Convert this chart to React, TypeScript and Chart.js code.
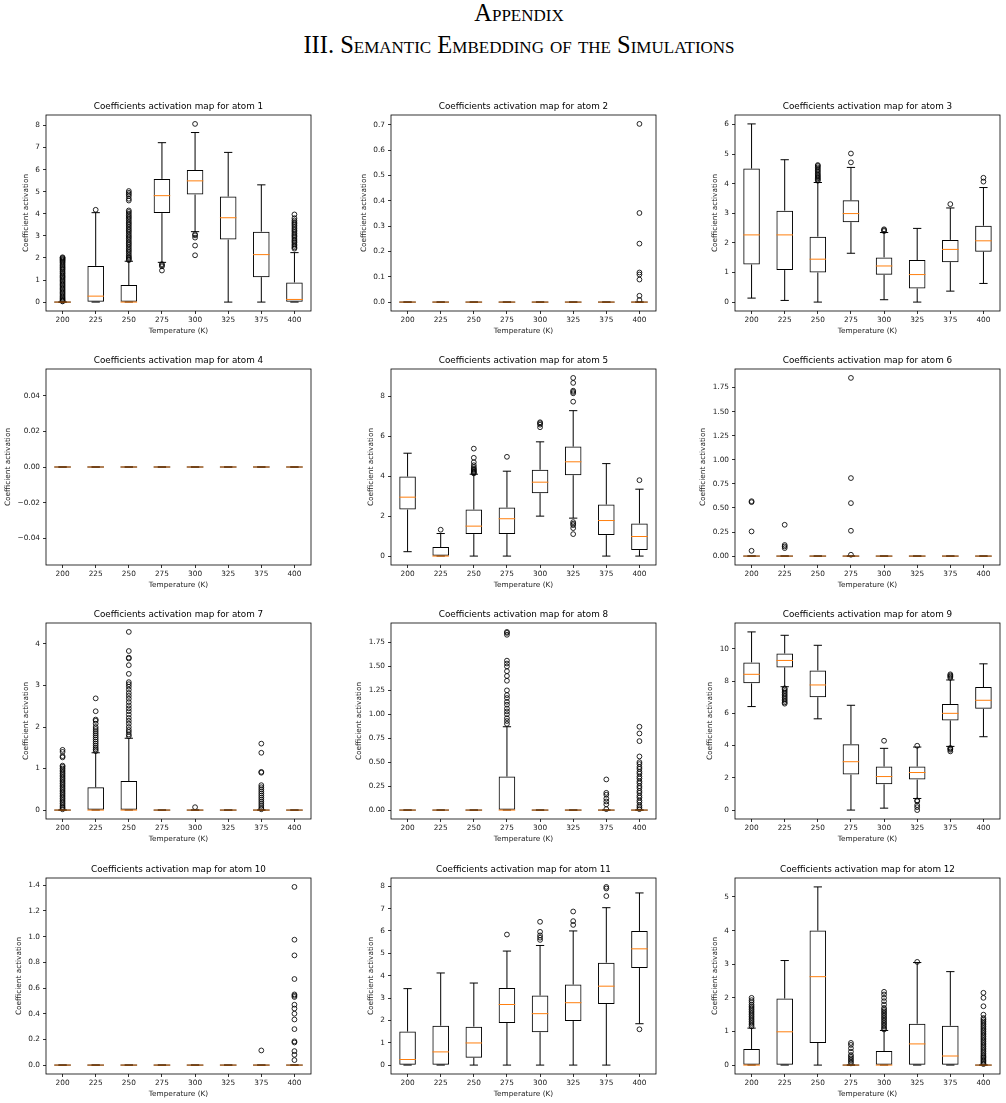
import React, { useEffect, useRef } from "react";
import { Chart, registerables } from "chart.js";

Chart.register(...registerables);
Chart.defaults.font.family = "'DejaVu Sans', sans-serif";

// ---------- DATA ----------
const temperatures = ["200", "225", "250", "275", "300", "325", "375", "400"];

// each entry: [whisker low, Q1, median, Q3, whisker high]
const atom1Stats = [
  [0, 0, 0, 0, 0], [0, 0, 0.27, 1.64, 4.05], [0, 0, 0, 0.77, 1.85], [1.8, 4.03, 4.82, 5.58, 7.22],
  [3.19, 4.87, 5.49, 5.98, 7.68], [0, 2.83, 3.82, 4.78, 6.78], [0, 1.13, 2.15, 3.19, 5.31], [0, 0, 0.12, 0.89, 2.24],
];
const atom1Outliers = [
  [2.03, 2.0, 1.96, 1.92, 1.88, 1.83, 1.78, 1.72, 1.66, 1.6, 1.55, 1.5, 1.45, 1.38, 1.32, 1.27, 1.2, 1.15, 1.1, 1.04, 0.98, 0.92, 0.86, 0.8, 0.74, 0.68, 0.62, 0.56, 0.5, 0.44, 0.38, 0.32, 0.26, 0.2, 0.15, 0.1, 0.06, 0.03],
  [4.18],
  [1.9, 1.95, 2.0, 2.05, 2.12, 2.2, 2.28, 2.35, 2.42, 2.5, 2.58, 2.65, 2.72, 2.8, 2.88, 2.95, 3.02, 3.1, 3.18, 3.25, 3.32, 3.4, 3.48, 3.55, 3.62, 3.7, 3.78, 3.85, 3.92, 4.0, 4.08, 4.15, 4.6, 4.68, 4.8, 4.88, 4.95, 5.03],
  [1.72, 1.67, 1.62, 1.43],
  [8.07, 3.07, 3.02, 2.92, 2.56, 2.12],
  [],
  [],
  [2.42, 2.48, 2.55, 2.62, 2.7, 2.76, 2.82, 2.9, 2.97, 3.03, 3.1, 3.18, 3.25, 3.32, 3.4, 3.48, 3.55, 3.62, 3.7, 3.8, 3.97],
];

const atom2Stats = [
  [0, 0, 0, 0, 0], [0, 0, 0, 0, 0], [0, 0, 0, 0, 0], [0, 0, 0, 0, 0],
  [0, 0, 0, 0, 0], [0, 0, 0, 0, 0], [0, 0, 0, 0, 0], [0, 0, 0, 0, 0],
];
const atom2Outliers = [[], [], [], [], [], [], [], [0.704, 0.352, 0.231, 0.117, 0.109, 0.089, 0.025, 0.008]];

const atom3Stats = [
  [0.135, 1.27, 2.27, 4.51, 6.02], [0.056, 1.08, 2.27, 3.09, 4.81], [0, 1.0, 1.45, 2.21, 4.04], [1.65, 2.7, 2.99, 3.44, 4.55],
  [0.08, 0.92, 1.22, 1.51, 2.35], [0, 0.46, 0.93, 1.42, 2.49], [0.37, 1.35, 1.78, 2.1, 3.18], [0.63, 1.7, 2.07, 2.58, 3.87],
];
const atom3Outliers = [
  [], [],
  [4.1, 4.14, 4.18, 4.22, 4.26, 4.3, 4.35, 4.4, 4.45, 4.5, 4.55, 4.6, 4.63],
  [4.72, 5.02],
  [2.4, 2.43, 2.46],
  [],
  [3.31],
  [4.07, 4.2],
];

const atom4Stats = [
  [0, 0, 0, 0, 0], [0, 0, 0, 0, 0], [0, 0, 0, 0, 0], [0, 0, 0, 0, 0],
  [0, 0, 0, 0, 0], [0, 0, 0, 0, 0], [0, 0, 0, 0, 0], [0, 0, 0, 0, 0],
];
const atom4Outliers = [[], [], [], [], [], [], [], []];

const atom5Stats = [
  [0.22, 2.33, 2.95, 3.98, 5.15], [0, 0, 0, 0.45, 1.13], [0, 1.1, 1.5, 2.33, 4.1], [0, 1.1, 1.87, 2.43, 4.25],
  [2.0, 3.15, 3.7, 4.32, 5.72], [1.9, 4.05, 4.72, 5.48, 7.28], [0, 1.05, 1.78, 2.58, 4.63], [0, 0.3, 0.98, 1.63, 3.35],
];
const atom5Outliers = [
  [],
  [1.32],
  [4.14, 4.18, 4.22, 4.27, 4.32, 4.37, 4.45, 4.55, 4.7, 4.92, 5.38],
  [4.97],
  [6.45, 6.58, 6.65, 6.7],
  [7.73, 8.15, 8.22, 8.28, 8.67, 8.92, 1.7, 1.62, 1.55, 1.4, 1.1],
  [],
  [3.8],
];

const atom6Stats = [
  [0, 0, 0, 0, 0], [0, 0, 0, 0, 0], [0, 0, 0, 0, 0], [0, 0, 0, 0, 0],
  [0, 0, 0, 0, 0], [0, 0, 0, 0, 0], [0, 0, 0, 0, 0], [0, 0, 0, 0, 0],
];
const atom6Outliers = [
  [0.57, 0.56, 0.256, 0.055],
  [0.325, 0.115, 0.1, 0.083],
  [],
  [1.85, 0.81, 0.55, 0.263, 0.014],
  [], [], [], [],
];

const atom7Stats = [
  [0, 0, 0, 0, 0], [0, 0, 0, 0.55, 1.38], [0, 0, 0, 0.7, 1.73], [0, 0, 0, 0, 0],
  [0, 0, 0, 0, 0], [0, 0, 0, 0, 0], [0, 0, 0, 0, 0], [0, 0, 0, 0, 0],
];
const atom7Outliers = [
  [0.02, 0.05, 0.08, 0.12, 0.16, 0.2, 0.24, 0.28, 0.32, 0.36, 0.4, 0.44, 0.48, 0.52, 0.56, 0.6, 0.64, 0.68, 0.72, 0.76, 0.8, 0.84, 0.88, 0.92, 0.96, 1.0, 1.04, 1.07, 1.27, 1.3, 1.4, 1.45],
  [1.42, 1.46, 1.5, 1.55, 1.6, 1.65, 1.7, 1.75, 1.8, 1.85, 1.9, 1.95, 2.0, 2.08, 2.15, 2.18, 2.38, 2.69],
  [1.78, 1.82, 1.88, 1.93, 2.0, 2.08, 2.15, 2.22, 2.3, 2.38, 2.45, 2.52, 2.6, 2.68, 2.75, 2.82, 2.9, 2.97, 3.03, 3.08, 3.28, 3.49, 3.65, 3.67, 3.83, 4.29],
  [],
  [0.07],
  [],
  [0.02, 0.05, 0.1, 0.15, 0.2, 0.25, 0.3, 0.35, 0.4, 0.45, 0.5, 0.55, 0.6, 0.9, 0.92, 1.38, 1.6],
  [],
];

const atom8Stats = [
  [0, 0, 0, 0, 0], [0, 0, 0, 0, 0], [0, 0, 0, 0, 0], [0, 0, 0, 0.35, 0.87],
  [0, 0, 0, 0, 0], [0, 0, 0, 0, 0], [0, 0, 0, 0, 0], [0, 0, 0, 0, 0],
];
const atom8Outliers = [
  [], [], [],
  [0.9, 0.93, 0.96, 1.0, 1.03, 1.06, 1.1, 1.13, 1.17, 1.2, 1.25, 1.35, 1.4, 1.45, 1.5, 1.53, 1.56, 1.83, 1.85, 1.86],
  [], [],
  [0.32, 0.18, 0.16, 0.12, 0.09, 0.06, 0.01],
  [0.01, 0.03, 0.05, 0.08, 0.1, 0.13, 0.15, 0.18, 0.2, 0.23, 0.25, 0.28, 0.3, 0.33, 0.35, 0.38, 0.4, 0.43, 0.45, 0.48, 0.5, 0.56, 0.72, 0.8, 0.87],
];

const atom9Stats = [
  [6.42, 7.86, 8.42, 9.16, 11.05], [7.65, 8.85, 9.28, 9.71, 10.84], [5.66, 7.0, 7.76, 8.66, 10.22], [0, 2.2, 3.0, 4.09, 6.5],
  [0.12, 1.6, 2.08, 2.7, 3.83], [0.72, 1.89, 2.33, 2.7, 3.91], [3.95, 5.56, 6.0, 6.58, 8.07], [4.55, 6.28, 6.81, 7.63, 9.07],
];
const atom9Outliers = [
  [],
  [6.6, 6.68, 6.78, 6.88, 6.98, 7.08, 7.18, 7.28, 7.38, 7.48, 7.55],
  [],
  [],
  [4.3],
  [3.99, 0.6, 0.55, 0.31, 0.18, 0.0],
  [8.2, 8.28, 8.35, 8.42, 3.85, 3.8, 3.74, 3.64],
  [],
];

const atom10Stats = [
  [0, 0, 0, 0, 0], [0, 0, 0, 0, 0], [0, 0, 0, 0, 0], [0, 0, 0, 0, 0],
  [0, 0, 0, 0, 0], [0, 0, 0, 0, 0], [0, 0, 0, 0, 0], [0, 0, 0, 0, 0],
];
const atom10Outliers = [
  [], [], [], [], [], [],
  [0.114],
  [1.387, 0.976, 0.854, 0.67, 0.55, 0.54, 0.53, 0.47, 0.44, 0.4, 0.355, 0.28, 0.185, 0.176, 0.109, 0.08, 0.039],
];

const atom11Stats = [
  [0, 0, 0.25, 1.5, 3.42], [0, 0, 0.59, 1.76, 4.12], [0, 0.33, 0.99, 1.72, 3.67], [0, 1.88, 2.71, 3.45, 5.1],
  [0, 1.47, 2.3, 3.11, 5.35], [0, 1.97, 2.79, 3.6, 6.0], [0, 2.73, 3.53, 4.58, 7.04], [1.85, 4.34, 5.2, 6.0, 7.7],
];
const atom11Outliers = [
  [], [], [],
  [5.84],
  [5.6, 5.7, 5.8, 5.96, 6.41],
  [6.27, 6.44, 6.87],
  [7.56, 7.9, 7.97],
  [1.6],
];

const atom12Stats = [
  [0, 0, 0, 0.48, 1.1], [0, 0, 0.99, 1.98, 3.11], [0, 0.66, 2.63, 4.0, 5.3], [0, 0, 0, 0, 0],
  [0, 0, 0, 0.42, 1.03], [0, 0, 0.63, 1.23, 3.05], [0, 0, 0.27, 1.17, 2.78], [0, 0, 0, 0, 0],
];
const atom12Outliers = [
  [1.15, 1.2, 1.25, 1.3, 1.35, 1.4, 1.45, 1.5, 1.55, 1.6, 1.65, 1.7, 1.75, 1.8, 1.87, 1.93, 2.0],
  [],
  [],
  [0.05, 0.1, 0.15, 0.2, 0.25, 0.3, 0.4, 0.5, 0.6, 0.66],
  [1.06, 1.1, 1.15, 1.2, 1.25, 1.3, 1.35, 1.4, 1.45, 1.5, 1.55, 1.6, 1.65, 1.7, 1.8, 1.9, 2.0, 2.1, 2.18],
  [3.07],
  [],
  [0.03, 0.06, 0.1, 0.14, 0.18, 0.22, 0.26, 0.3, 0.35, 0.4, 0.45, 0.5, 0.55, 0.6, 0.65, 0.7, 0.75, 0.8, 0.85, 0.9, 0.95, 1.0, 1.05, 1.1, 1.15, 1.2, 1.25, 1.3, 1.35, 1.4, 1.5, 1.75, 2.0, 2.15],
];

const yStepSizes = [1, 0.1, 1, 0.02, 2, 0.25, 1, 0.25, 2, 0.2, 1, 1];
const yDecimals = [0, 1, 0, 2, 0, 2, 0, 2, 0, 1, 0, 0];

const allStats = [atom1Stats, atom2Stats, atom3Stats, atom4Stats, atom5Stats, atom6Stats, atom7Stats, atom8Stats, atom9Stats, atom10Stats, atom11Stats, atom12Stats];
const allOutliers = [atom1Outliers, atom2Outliers, atom3Outliers, atom4Outliers, atom5Outliers, atom6Outliers, atom7Outliers, atom8Outliers, atom9Outliers, atom10Outliers, atom11Outliers, atom12Outliers];

// ---------- LAYOUT ----------
const COL_LEFT = [0, 345, 689];
const ROW_TOP = [91, 345, 599, 854];
const CANVAS_W = 316;
const CANVAS_H = 248;
const AREA_LEFT = 46;
const AREA_TOP = 24;
const AREA_W = 265;
const AREA_H = 196;
const TICK_FONT = { family: "'DejaVu Sans', sans-serif", size: 7.35 };
const TEXT_COLOR = "#222";

function BoxPlot({ index }: { index: number }) {
  const ref = useRef<HTMLCanvasElement | null>(null);
  useEffect(() => {
    const canvas = ref.current;
    if (!canvas) return;
    const stats = allStats[index];
    const outliers = allOutliers[index];
    let lo = Infinity;
    let hi = -Infinity;
    stats.forEach((s, i) => {
      lo = Math.min(lo, s[0]);
      hi = Math.max(hi, s[4]);
      outliers[i].forEach((v) => {
        lo = Math.min(lo, v);
        hi = Math.max(hi, v);
      });
    });
    if (hi === lo) {
      lo -= 0.05;
      hi += 0.05;
    }
    const margin = (hi - lo) * 0.05;
    const yMin = lo - margin;
    const yMax = hi + margin;
    const dec = yDecimals[index];

    const boxPlugin = {
      id: "boxWhiskers" + index,
      afterDatasetsDraw(chart: any) {
        const { ctx, chartArea } = chart;
        const xs = chart.scales.x;
        const ys = chart.scales.y;
        const step = xs.width / temperatures.length;
        const boxHalf = step * 0.25;
        const capHalf = step * 0.125;
        const line = (x1: number, y1: number, x2: number, y2: number) => {
          ctx.beginPath();
          ctx.moveTo(x1, y1);
          ctx.lineTo(x2, y2);
          ctx.stroke();
        };
        ctx.save();
        stats.forEach((s, i) => {
          const x = xs.getPixelForValue(i);
          const pLo = ys.getPixelForValue(s[0]);
          const pQ1 = ys.getPixelForValue(s[1]);
          const pMed = ys.getPixelForValue(s[2]);
          const pQ3 = ys.getPixelForValue(s[3]);
          const pHi = ys.getPixelForValue(s[4]);
          ctx.strokeStyle = "#000";
          ctx.lineWidth = 1;
          if (s[0] !== s[1]) line(x, pQ1, x, pLo);
          if (s[4] !== s[3]) line(x, pQ3, x, pHi);
          line(x - capHalf, pLo, x + capHalf, pLo);
          line(x - capHalf, pHi, x + capHalf, pHi);
          if (s[1] === s[3]) line(x - boxHalf, pQ1, x + boxHalf, pQ1);
          ctx.strokeStyle = "#ff7f0e";
          if (s[1] === s[3]) ctx.globalAlpha = 0.75;
          line(x - boxHalf, pMed, x + boxHalf, pMed);
          ctx.globalAlpha = 1;
        });
        ctx.strokeStyle = "#000";
        ctx.lineWidth = 0.8;
        ctx.strokeRect(chartArea.left, chartArea.top, chartArea.right - chartArea.left, chartArea.bottom - chartArea.top);
        ctx.restore();
      },
    };

    const outlierPoints: { x: string; y: number }[] = [];
    outliers.forEach((list, i) => list.forEach((v) => outlierPoints.push({ x: temperatures[i], y: v })));

    const options: any = {
      responsive: false,
      animation: false,
      events: [],
      layout: { padding: { left: 0, right: 5, top: 0, bottom: 5 } },
      plugins: {
        legend: { display: false },
        tooltip: { enabled: false },
        title: {
          display: true,
          fullSize: false,
          text: "Coefficients activation map for atom " + (index + 1),
          color: "#000",
          font: { family: "'DejaVu Sans', sans-serif", size: 8.8, weight: "normal" },
          padding: { top: 10.4, bottom: 3 },
        },
      },
      scales: {
        x: {
          type: "category",
          labels: temperatures,
          offset: true,
          border: { display: false },
          grid: { offset: false, drawOnChartArea: false, drawTicks: true, tickLength: 3, color: "#000", lineWidth: 0.8 },
          ticks: { padding: 2, maxRotation: 0, autoSkip: false, color: TEXT_COLOR, font: TICK_FONT },
          title: { display: true, text: "Temperature (K)", color: TEXT_COLOR, font: TICK_FONT, padding: { top: 0, bottom: 0 } },
        },
        y: {
          type: "linear",
          min: yMin,
          max: yMax,
          border: { display: false },
          grid: { drawOnChartArea: false, drawTicks: true, tickLength: 3, color: "#000", lineWidth: 0.8 },
          ticks: {
            stepSize: yStepSizes[index],
            includeBounds: false,
            padding: 3,
            color: TEXT_COLOR,
            font: TICK_FONT,
            callback: (v: any) => Number(v).toFixed(dec).replace("-", "\u2212"),
          },
          afterBuildTicks: (sc: any) => {
            sc.ticks = sc.ticks.filter((t: any) => t.value >= yMin - 1e-9 && t.value <= yMax + 1e-9);
          },
          title: { display: true, text: "Coefficient activation", color: TEXT_COLOR, font: TICK_FONT, padding: { top: 0, bottom: 2 } },
        },
      },
    };

    const chart = new Chart(canvas, {
      type: "bar",
      data: {
        labels: temperatures,
        datasets: [
          {
            type: "bar",
            data: stats.map((s) => [s[1], s[3]]),
            backgroundColor: "rgba(255,255,255,0)",
            borderColor: "#000",
            borderWidth: 1,
            borderSkipped: false,
            barPercentage: 0.5,
            categoryPercentage: 1,
          } as any,
          {
            type: "scatter",
            data: outlierPoints,
            pointRadius: 2.4,
            pointBorderWidth: 0.85,
            pointBorderColor: "#000",
            pointBackgroundColor: "rgba(0,0,0,0)",
            showLine: false,
          } as any,
        ],
      },
      options,
      plugins: [boxPlugin],
    });

    for (let k = 0; k < 3; k++) {
      const ca = chart.chartArea;
      const p = options.layout.padding;
      const tp = options.plugins.title.padding;
      const dl = AREA_LEFT - ca.left;
      const dr = ca.right - (AREA_LEFT + AREA_W);
      const db = ca.bottom - (AREA_TOP + AREA_H);
      const dt = AREA_TOP - ca.top;
      if (Math.abs(dl) + Math.abs(dr) + Math.abs(db) + Math.abs(dt) < 0.01) break;
      options.layout.padding = { left: p.left + dl, right: p.right + dr, top: p.top, bottom: p.bottom + db };
      options.plugins.title.padding = { top: tp.top, bottom: tp.bottom + dt };
      chart.options = options;
      chart.update();
    }

    return () => chart.destroy();
  }, [index]);

  const col = index % 3;
  const row = Math.floor(index / 3);
  return (
    <canvas
      ref={ref}
      width={CANVAS_W}
      height={CANVAS_H}
      style={{ position: "absolute", left: COL_LEFT[col], top: ROW_TOP[row], width: CANVAS_W, height: CANVAS_H }}
    />
  );
}

export default function App() {
  const headStyle: React.CSSProperties = {
    position: "absolute",
    left: 16,
    width: 1006,
    textAlign: "center",
    fontFamily: "'Liberation Serif', 'Times New Roman', serif",
    fontVariant: "small-caps",
    fontSize: 24.5,
    lineHeight: "24px",
    color: "#000",
    whiteSpace: "nowrap",
  };
  return (
    <div style={{ position: "absolute", left: 0, top: 0, width: 1006, height: 1103, overflow: "hidden", background: "#fff" }}>
      <div style={{ ...headStyle, top: 1 }}>Appendix</div>
      <div style={{ ...headStyle, top: 33 }}>III. Semantic Embedding of the Simulations</div>
      {allStats.map((_, i) => (
        <BoxPlot key={i} index={i} />
      ))}
    </div>
  );
}
